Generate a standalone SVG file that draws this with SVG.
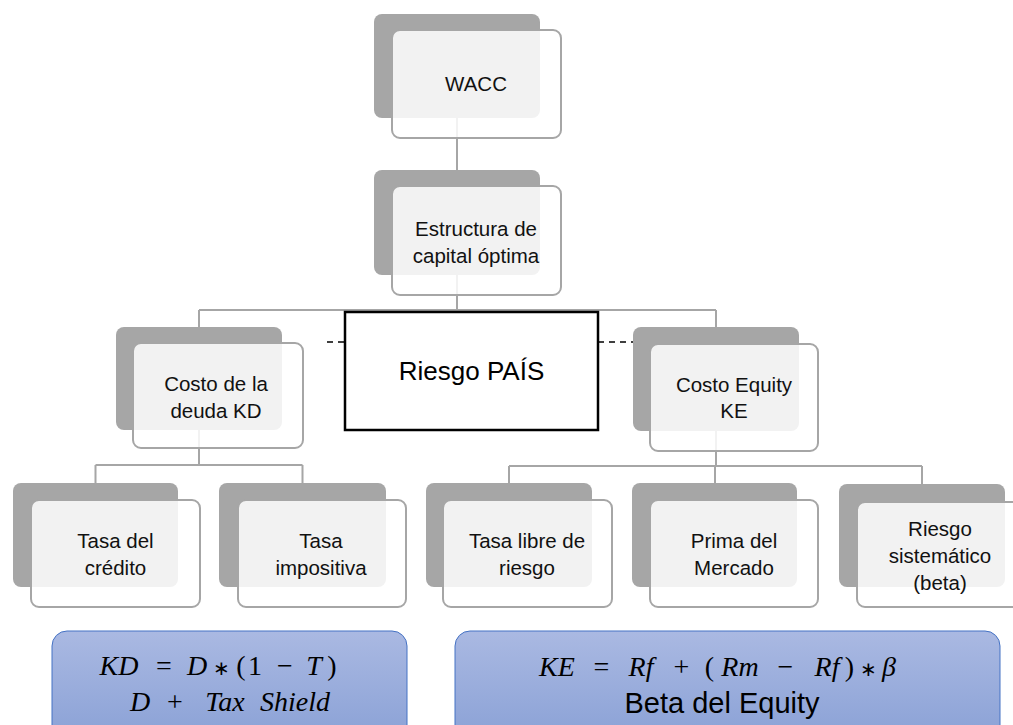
<svg xmlns="http://www.w3.org/2000/svg" width="1013" height="725" viewBox="0 0 1013 725">
<defs>
<linearGradient id="fg" x1="0" y1="0" x2="0" y2="1">
<stop offset="0" stop-color="#aab9e2"/>
<stop offset="1" stop-color="#8aa1d6"/>
</linearGradient>
<style>
.dk{fill:#a6a6a6;}
.lt{fill:#ffffff;fill-opacity:0.85;stroke:#a6a6a6;stroke-width:2;}
.t{font-family:"Liberation Sans",Arial,sans-serif;font-size:20.5px;fill:#111;text-anchor:middle;}
.cn{fill:none;stroke:#a6a6a6;stroke-width:2;}
.fb{fill:url(#fg);stroke:#4472c4;stroke-width:1;}
.m{font-family:"Liberation Serif","Times New Roman",serif;font-size:28px;fill:#000;text-anchor:middle;}
.i{font-style:italic;}
.s{font-size:20px;}
</style>
</defs>
<rect width="1013" height="725" fill="#ffffff"/>
<g id="connectors">
<path class="cn" d="M457 118V170M457 275V310M199 310H716M199 310V327M716 310V327"/>
<path class="cn" d="M199 430V465M95.5 465H302.5M95.5 465V483M302.5 465V483"/>
<path class="cn" d="M716 431V466M509 466H922M509 466V484M715 466V484M922 466V484"/>
<path d="M327 342H345M598 342H636" fill="none" stroke="#000" stroke-width="1.6" stroke-dasharray="6,5"/>
</g>
<g id="n-wacc">
<rect class="dk" x="374" y="14" width="166" height="104" rx="8"/>
<rect class="lt" x="392" y="30" width="169" height="108" rx="8"/>
<text class="t" x="476" y="91">WACC</text>
</g>
<g id="n-estructura">
<rect class="dk" x="374" y="170" width="166" height="105" rx="8"/>
<rect class="lt" x="392" y="186" width="169" height="109" rx="8"/>
<text class="t" x="476" y="236">Estructura de</text>
<text class="t" x="476" y="263">capital óptima</text>
</g>
<g id="n-riesgo-pais">
<rect x="345" y="312" width="253" height="118" fill="#fff" stroke="#000" stroke-width="2.5"/>
<text x="471.5" y="380" font-family="Liberation Sans,Arial,sans-serif" font-size="26" text-anchor="middle" fill="#000">Riesgo PAÍS</text>
</g>
<g id="n-kd">
<rect class="dk" x="116" y="327" width="166" height="103" rx="8"/>
<rect class="lt" x="133" y="343" width="170" height="105" rx="8"/>
<text class="t" x="216" y="391">Costo de la</text>
<text class="t" x="216" y="418">deuda KD</text>
</g>
<g id="n-ke">
<rect class="dk" x="633" y="327" width="166" height="104" rx="8"/>
<rect class="lt" x="650" y="344" width="168" height="107" rx="8"/>
<text class="t" x="734" y="392">Costo Equity</text>
<text class="t" x="734" y="418">KE</text>
</g>
<g id="n-tasa-credito">
<rect class="dk" x="13" y="483" width="165" height="104" rx="8"/>
<rect class="lt" x="31" y="500" width="169" height="107" rx="8"/>
<text class="t" x="115.5" y="548">Tasa del</text>
<text class="t" x="115.5" y="575">crédito</text>
</g>
<g id="n-tasa-impositiva">
<rect class="dk" x="219" y="483" width="167" height="104" rx="8"/>
<rect class="lt" x="238" y="500" width="168" height="107" rx="8"/>
<text class="t" x="321" y="548">Tasa</text>
<text class="t" x="321" y="575">impositiva</text>
</g>
<g id="n-tasa-libre">
<rect class="dk" x="426" y="483" width="166" height="104" rx="8"/>
<rect class="lt" x="443" y="500" width="169" height="107" rx="8"/>
<text class="t" x="527" y="548">Tasa libre de</text>
<text class="t" x="527" y="575">riesgo</text>
</g>
<g id="n-prima">
<rect class="dk" x="632" y="483" width="165" height="104" rx="8"/>
<rect class="lt" x="650" y="500" width="168" height="107" rx="8"/>
<text class="t" x="734" y="548">Prima del</text>
<text class="t" x="734" y="575">Mercado</text>
</g>
<g id="n-riesgo-sist">
<rect class="dk" x="839" y="484" width="166" height="103" rx="8"/>
<rect class="lt" x="857" y="502" width="169" height="105" rx="8"/>
<text class="t" x="940" y="536">Riesgo</text>
<text class="t" x="940" y="563">sistemático</text>
<text class="t" x="940" y="590">(beta)</text>
</g>
<g id="n-formula-kd">
<rect class="fb" x="52" y="631" width="355" height="110" rx="15"/>
<text class="m" y="675"><tspan class="i" x="119">KD</tspan><tspan x="164">=</tspan><tspan class="i" x="197">D</tspan><tspan class="s" x="221">∗</tspan><tspan x="241">(</tspan><tspan x="255">1</tspan><tspan x="285">−</tspan><tspan class="i" x="314">T</tspan><tspan x="332">)</tspan></text>
<text class="m" y="711"><tspan class="i" x="140">D</tspan><tspan x="175">+</tspan><tspan class="i" x="225">Tax</tspan><tspan class="i" x="295">Shield</tspan></text>
</g>
<g id="n-formula-ke">
<rect class="fb" x="455" y="631" width="545" height="110" rx="15"/>
<text class="m" y="676"><tspan class="i" x="557">KE</tspan><tspan x="601.5">=</tspan><tspan class="i" x="641">Rf</tspan><tspan x="681.5">+</tspan><tspan x="709.5">(</tspan><tspan class="i" x="740">Rm</tspan><tspan x="785.5">−</tspan><tspan class="i" x="827">Rf</tspan><tspan x="849.5">)</tspan><tspan class="s" x="868.5">∗</tspan><tspan class="i" x="889">β</tspan></text>
<text x="722" y="713" font-family="Liberation Sans,Arial,sans-serif" font-size="29" text-anchor="middle" fill="#000">Beta del Equity</text>
</g>
</svg>
